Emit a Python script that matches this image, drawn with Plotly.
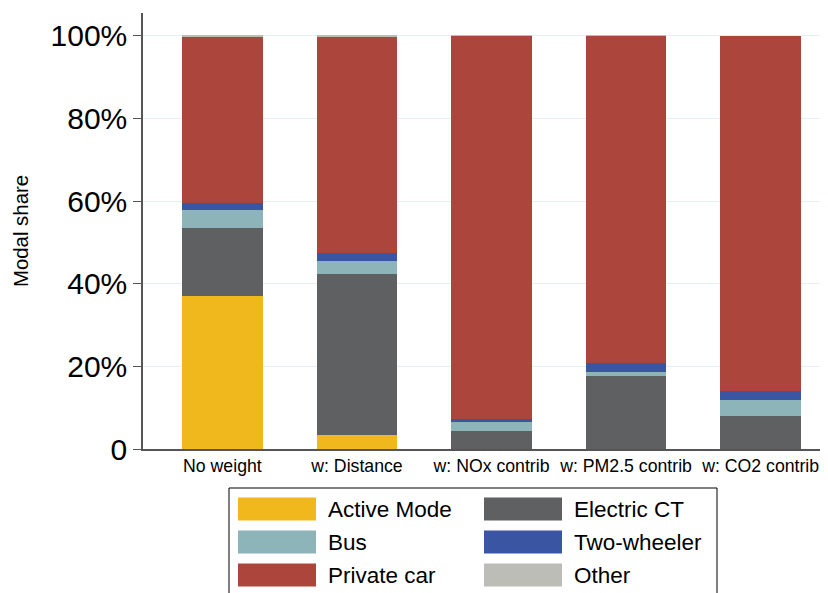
import plotly.graph_objects as go

categories = ["No weight", "w: Distance", "w: NOx contrib", "w: PM2.5 contrib", "w: CO2 contrib"]
active_mode = [37.0, 3.4, 0.0, 0.0, 0.0]
electric_ct = [16.5, 39.0, 4.35, 17.75, 8.0]
bus = [4.4, 3.1, 2.25, 0.9, 3.9]
two_wheeler = [1.7, 2.0, 0.75, 2.2, 2.1]
private_car = [40.2, 52.4, 92.6, 79.1, 86.0]
other = [0.2, 0.1, 0.05, 0.05, 0.0]

y_tickvals = [0, 20, 40, 60, 80, 100]
y_ticktext = ["0", "20%", "40%", "60%", "80%", "100%"]

series = [
    ("Active Mode", active_mode, "#F1B81E"),
    ("Electric CT", electric_ct, "#5F6062"),
    ("Bus", bus, "#8CB4B9"),
    ("Two-wheeler", two_wheeler, "#3A56A3"),
    ("Private car", private_car, "#AC463C"),
    ("Other", other, "#BDBDB7"),
]
colors = {name: c for name, _, c in series}

FONT = "Liberation Sans, Arial, sans-serif"
OFF = 8  # page body margin
W, H = 828, 593
L, T = 143 - OFF, 13 - OFF
R = 0
B = H - (449 - OFF)
PW, PH = W - L - R, H - T - B

fig = go.Figure()
for name, vals, col in series:
    fig.add_trace(go.Bar(
        x=categories, y=vals, name=name,
        marker=dict(color=col, line=dict(width=0)),
        width=0.6, showlegend=False,
    ))

def px(x):
    return (x - OFF - L) / PW

def py(y):
    return (H - B - (y - OFF)) / PH

shapes = []
annotations = []
shapes.append(dict(type="rect", xref="paper", yref="paper",
                   x0=px(229), x1=px(717), y0=py(605), y1=py(488),
                   line=dict(color="black", width=1), fillcolor="white", layer="above"))
legend_layout = [
    ("Active Mode", 238, 509), ("Electric CT", 484, 509),
    ("Bus", 238, 542), ("Two-wheeler", 484, 542),
    ("Private car", 238, 575), ("Other", 484, 575),
]
for name, sx, sy in legend_layout:
    shapes.append(dict(type="rect", xref="paper", yref="paper",
                       x0=px(sx), x1=px(sx + 78), y0=py(sy + 11.5), y1=py(sy - 11.5),
                       line=dict(width=0), fillcolor=colors[name], layer="above"))
    annotations.append(dict(text=name, xref="paper", yref="paper",
                            x=px(sx + 88), y=py(sy), xanchor="left", yanchor="middle",
                            showarrow=False, font=dict(size=22.5, color="black", family=FONT)))

fig.update_layout(
    width=W, height=H,
    margin=dict(l=L, r=R, t=T, b=B, autoexpand=False),
    barmode="stack",
    paper_bgcolor="white", plot_bgcolor="white",
    font=dict(family=FONT, color="black"),
    shapes=shapes, annotations=annotations,
    showlegend=False,
    xaxis=dict(range=[-0.59, 4.56], showgrid=False, showline=True, linecolor="#555555",
               linewidth=1.5, ticks="", tickfont=dict(size=17.7, color="black"),
               automargin=False),
    yaxis=dict(range=[0, 105.5], tickvals=y_tickvals, ticktext=y_ticktext,
               showgrid=True, gridcolor="#E6EFF1", gridwidth=1,
               showline=True, linecolor="#555555", linewidth=1.5,
               ticks="outside", ticklen=8, tickcolor="#555555",
               tickfont=dict(size=30, color="black"), zeroline=False,
               title=dict(text="Modal share", font=dict(size=20.4, color="black"), standoff=16),
               automargin=False),
)

fig.write_html("out.html")
